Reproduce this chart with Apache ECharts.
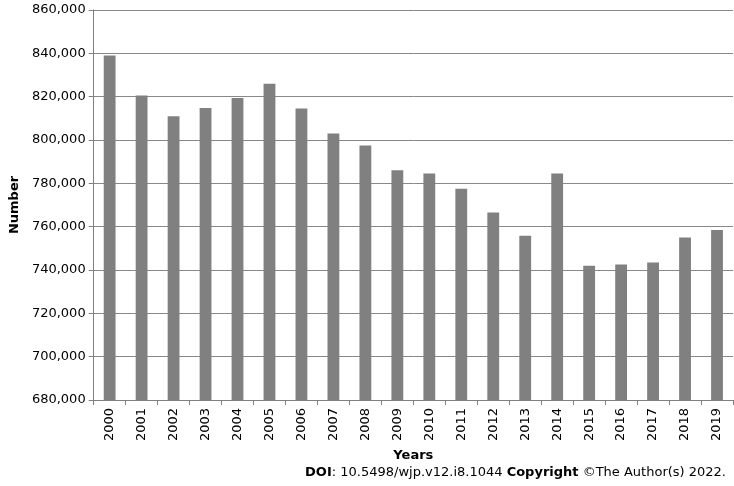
<html>
<head>
    <script src="https://cdn.jsdelivr.net/npm/echarts@6/dist/echarts.min.js"></script>
    <style>
        body { margin: 0; background: #fff; }
        #chart { width: 734px; height: 486px; }
    </style>
</head>
<body>
    <div id="chart"></div>
    <script>
        var years = ['2000', '2001', '2002', '2003', '2004', '2005', '2006', '2007', '2008', '2009',
            '2010', '2011', '2012', '2013', '2014', '2015', '2016', '2017', '2018', '2019'];
        var counts = [839000, 820500, 811000, 814800, 819400, 826000, 814500, 803000, 797500, 786000,
            784500, 777500, 766500, 755800, 784500, 742000, 742500, 743500, 755000, 758500];

        var font = 'DejaVu Sans';
        var myChart = echarts.init(document.getElementById('chart'));
        var option = {
            animation: false,
            grid: { left: 84, right: 1, top: 10, bottom: 86 },
            xAxis: {
                type: 'category',
                data: years,
                name: 'Years',
                nameLocation: 'middle',
                nameGap: 45,
                nameTextStyle: { fontFamily: font, fontSize: 13, fontWeight: 'bold', color: '#000' },
                axisLine: { lineStyle: { color: '#808080' } },
                axisTick: { show: true, alignWithLabel: false, lineStyle: { color: '#808080' } },
                axisLabel: { rotate: 90, interval: 0, fontFamily: font, fontSize: 13, color: '#000' }
            },
            yAxis: {
                type: 'value',
                min: 680000,
                max: 860000,
                interval: 20000,
                name: 'Number',
                nameLocation: 'middle',
                nameGap: 68,
                nameTextStyle: { fontFamily: font, fontSize: 13, fontWeight: 'bold', color: '#000' },
                axisLine: { show: true, lineStyle: { color: '#808080' } },
                axisTick: { show: true, lineStyle: { color: '#808080' } },
                axisLabel: { fontFamily: font, fontSize: 13, color: '#000' },
                splitLine: { lineStyle: { color: '#888' } }
            },
            series: [{
                type: 'bar',
                data: counts,
                barWidth: '37%',
                itemStyle: { color: '#808080' }
            }],
            graphic: [{
                type: 'text',
                right: 8,
                top: 466,
                style: {
                    rich: {
                        b: { fontFamily: font, fontSize: 13, fontWeight: 'bold', fill: '#000' },
                        n: { fontFamily: font, fontSize: 13, fill: '#000' }
                    },
                    text: '{b|DOI}{n|: 10.5498/wjp.v12.i8.1044 }{b|Copyright}{n| ©The Author(s) 2022.}'
                }
            }]
        };
        myChart.setOption(option);
    </script>
</body>
</html>
